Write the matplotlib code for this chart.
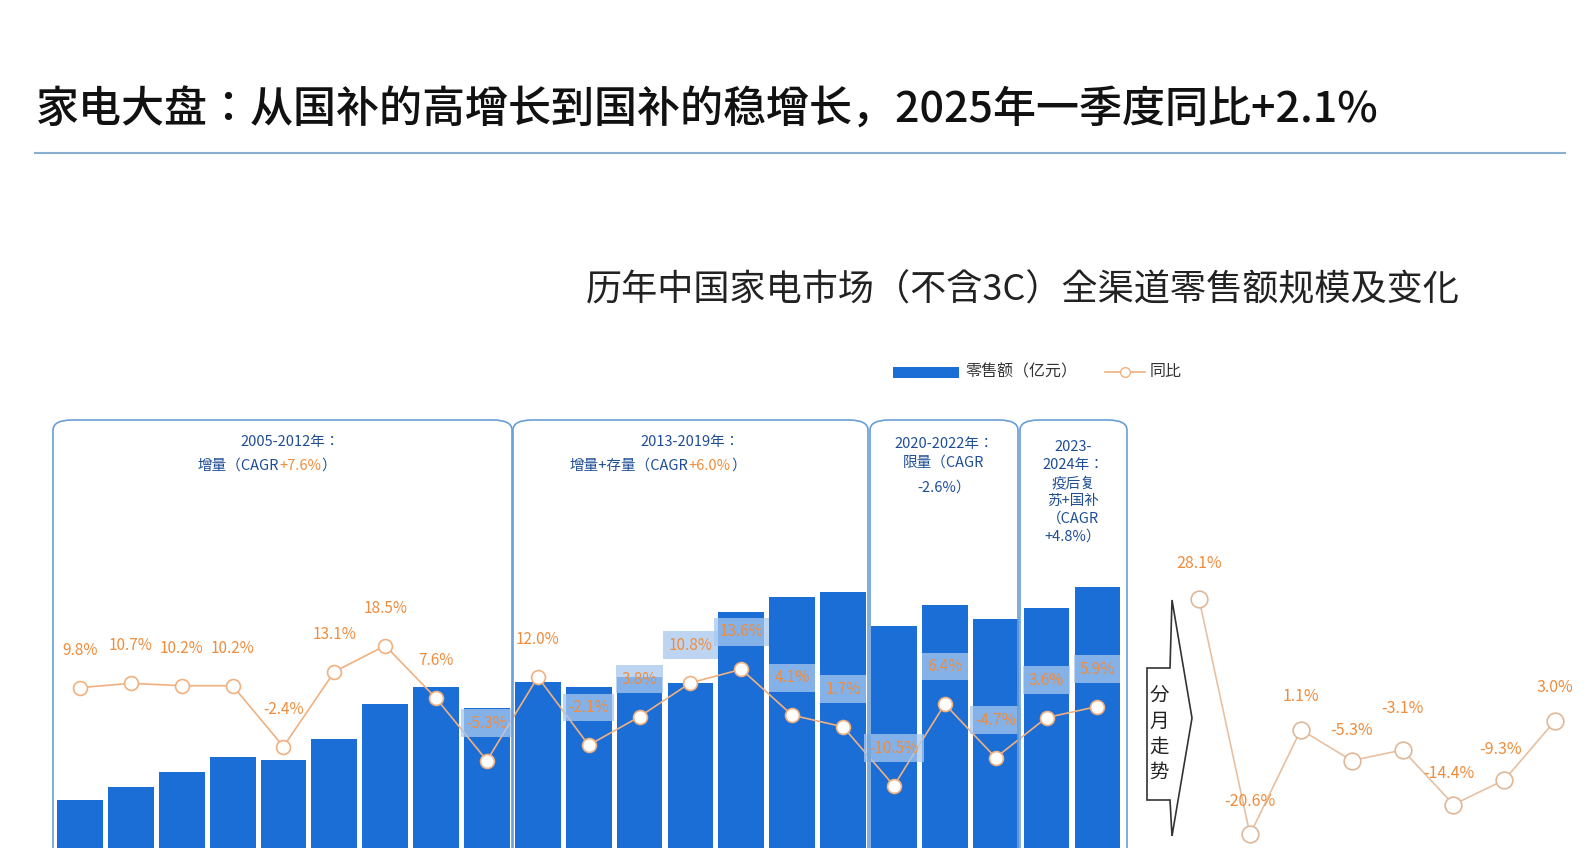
import matplotlib
matplotlib.use("Agg")
import matplotlib.pyplot as plt
from matplotlib.patches import FancyBboxPatch, Polygon, Rectangle
from matplotlib.lines import Line2D

plt.rcParams["font.family"] = "Noto Sans CJK JP"

# ---- data ----
years = list(range(2004, 2025))
sales = [5913, 6103, 6322, 6541, 6497, 6804, 7315, 7563, 7256, 7636, 7563,
         7709, 7621, 8658, 8877, 8950, 8453, 8760, 8556, 8716, 9023]
yoy = [9.8, 10.7, 10.2, 10.2, -2.4, 13.1, 18.5, 7.6, -5.3, 12.0, -2.1,
       3.8, 10.8, 13.6, 4.1, 1.7, -10.5, 6.4, -4.7, 3.6, 5.9]
boxed = [False]*8 + [True, False] + [True]*11
monthly_pos = list(range(22, 30))
monthly = [28.1, -20.6, 1.1, -5.3, -3.1, -14.4, -9.3, 3.0]

W, H = 1590, 848
fig = plt.figure(figsize=(15.9, 8.48), dpi=100)
fig.patch.set_facecolor("white")

def px(x, y):
    return (x / W, 1 - y / H)

ax = fig.add_axes([0, 0, 1, 1])
ax.set_xlim(-80 / 50.87, (W - 80) / 50.87)
ax.set_ylim((1205 - 848) * 14.6, 1205 * 14.6)
ax.axis("off")
ax2 = ax.twinx()
ax2.set_ylim((735 - 848) / 4.83, 735 / 4.83)
ax2.axis("off")

blue = "#1a6ed6"
orange = "#f08c3c"
dark = "#1f4e96"

ax.bar(range(len(sales)), sales, width=0.9, color=blue, zorder=2)

ax2.plot(range(len(yoy)), yoy, color="#f0b080", lw=1.2, zorder=3,
         marker="o", ms=10, mfc="white", mec="#f0b080", mew=1.2)
for i, v in enumerate(yoy):
    bb = dict(boxstyle="square,pad=0.35", fc="#a8c8ee", ec="none", alpha=0.75) if boxed[i] else None
    ax2.annotate(f"{v:.1f}%", (i, v), xytext=(0, 27), textcoords="offset points",
                 ha="center", va="center", fontsize=11, color=orange, bbox=bb, zorder=4)

ax2.plot(monthly_pos, monthly, color="#e8c0a0", lw=1.2, zorder=3,
         marker="o", ms=12, mfc="white", mec="#e0b898", mew=1.2)
moff = [(0, 26), (0, 24), (0, 24), (0, 22), (0, 30), (-3, 22), (-3, 22), (0, 24)]
for (x, v), o in zip(zip(monthly_pos, monthly), moff):
    ax2.annotate(f"{v:.1f}%", (x, v), xytext=o, textcoords="offset points",
                 ha="center", va="center", fontsize=11.5, color=orange, zorder=4)

# ---- group boxes ----
boxes = [(53, 512), (513, 868), (870, 1018), (1020, 1127)]
for x0, x1 in boxes:
    a = px(x0, 870)
    b = px(x1, 420)
    fig.patches.append(FancyBboxPatch(a, b[0] - a[0], b[1] - a[1],
                                      boxstyle="round,pad=0,rounding_size=0.012",
                                      transform=fig.transFigure, fc="none",
                                      ec="#6a9ed8", lw=1.2, zorder=5))

def two_tone(x, y, left, mid, right, size=10.5):
    t = fig.text(*px(x, y), mid, ha="center", va="center", fontsize=size, color=orange)
    fig.canvas.draw()
    bb = t.get_window_extent()
    fig.text(bb.x0 / W, 1 - y / H, left, ha="right", va="center", fontsize=size, color=dark)
    fig.text(bb.x1 / W, 1 - y / H, right, ha="left", va="center", fontsize=size, color=dark)

fig.text(*px(290, 442), "2005-2012年：", ha="center", va="center", fontsize=10.5, color=dark)
two_tone(300, 466, "增量（CAGR", "+7.6%", "）")
fig.text(*px(690, 442), "2013-2019年：", ha="center", va="center", fontsize=10.5, color=dark)
two_tone(710, 466, "增量+存量（CAGR", "+6.0%", "）")
fig.text(*px(944, 453), "2020-2022年：\n限量（CAGR", ha="center", va="center",
         fontsize=10.5, color=dark, linespacing=1.4)
fig.text(*px(944, 488), "-2.6%）", ha="center", va="center", fontsize=10.5, color=dark)
fig.text(*px(1073, 492), "2023-\n2024年：\n疫后复\n苏+国补\n（CAGR\n+4.8%）", ha="center",
         va="center", fontsize=10.5, color=dark, linespacing=1.35, multialignment="center")

# ---- arrow 分月走势 ----
pts = [px(1147, 668), px(1170, 668), px(1172, 600), px(1192, 718),
       px(1172, 836), px(1170, 800), px(1147, 800)]
fig.patches.append(Polygon(pts, closed=True, transform=fig.transFigure,
                           fc="white", ec="#333333", lw=1.2, zorder=5))
fig.text(*px(1159, 734), "分\n月\n走\n势", ha="center", va="center",
         fontsize=14, color="#222222", linespacing=1.3, zorder=6)

# ---- titles ----
fig.text(*px(36, 110), "家电大盘：从国补的高增长到国补的稳增长，2025年一季度同比+2.1%",
         ha="left", va="center", fontsize=31, color="#111111", fontweight="medium")
fig.add_artist(Line2D([35 / W, 1565 / W], [1 - 153 / H] * 2, color="#8aaed0", lw=1.5))
fig.text(*px(1460, 290), "历年中国家电市场（不含3C）全渠道零售额规模及变化",
         ha="right", va="center", fontsize=26, color="#222222")

# ---- legend ----
fig.patches.append(Rectangle(px(893, 378), 66 / W, 11 / H, transform=fig.transFigure,
                             fc=blue, ec="none"))
fig.text(*px(965, 372), "零售额（亿元）", ha="left", va="center", fontsize=11.5, color="#333333")
fig.add_artist(Line2D([1105 / W, 1145 / W], [1 - 372 / H] * 2, color="#f0b080", lw=1.2))
fig.add_artist(Line2D([1125 / W], [1 - 372 / H], marker="o", ms=7, mfc="white",
                      mec="#f0b080", lw=0))
fig.text(*px(1150, 372), "同比", ha="left", va="center", fontsize=11.5, color="#333333")

fig.savefig("out.png", dpi=100)
